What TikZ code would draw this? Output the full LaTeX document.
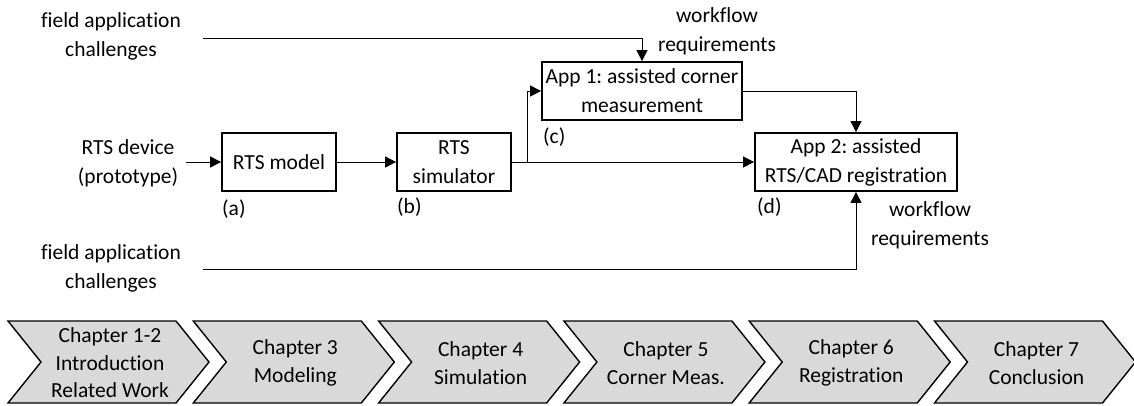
\documentclass[tikz,border=0pt]{standalone}
\usepackage{fontspec}
\setmainfont{Carlito}[Ligatures={NoCommon}]
\frenchspacing
\usetikzlibrary{arrows.meta}
\definecolor{chevfill}{HTML}{D9D9D9}
\tikzset{
  txt/.style={font=\fontsize{21.5}{29}\selectfont\frenchspacing, align=center, inner sep=0pt},
  chtxt/.style={font=\fontsize{21.5}{27.5}\selectfont\frenchspacing, align=center, inner sep=0pt},
  lbl/.style={font=\fontsize{21.5}{24}\selectfont, inner sep=0pt, anchor=west},
  box/.style={draw, line width=1.8pt, txt, minimum height=58pt},
  conn/.style={line width=1pt},
  arr/.style={line width=1pt, -{Triangle[length=11pt,width=11pt]}},
  chev/.style={draw, line width=1.4pt, fill=chevfill, line join=miter}
}
\begin{document}
\begin{tikzpicture}[x=1pt,y=-1pt]
\useasboundingbox (0,0) rectangle (1134,405);

% boxes
\node[box, minimum width=114pt] (model) at (279,162) {RTS model};
\node[box, minimum width=114pt] (sim) at (454,162) {RTS\\simulator};
\node[box, minimum width=200pt] (app1) at (642,91) {App 1: assisted corner\\measurement};
\node[box, minimum width=202pt] (app2) at (856,162) {App 2: assisted\\RTS/CAD registration};

% labels
\node[lbl] (la) at (222,209) {(a)};
\node[lbl] (lb) at (397,207) {(b)};
\node[lbl] (lc) at (543,137) {(c)};
\node[lbl] (ld) at (757,207) {(d)};

% texts
\node[txt] (fac1) at (111,36) {field application\\challenges};
\node[txt] (fac2) at (111,268) {field application\\challenges};
\node[txt] (dev) at (128,163) {RTS device\\(prototype)};
\node[txt] (wr1) at (717,31) {workflow\\requirements};
\node[txt] (wr2) at (930,225) {workflow\\requirements};

% connectors
\coordinate (t1) at (203,38);
\coordinate (b1) at (203,269);
\coordinate (d1) at (186,162);
\coordinate (br) at (527,162);

\draw[arr] (d1) -- (model.west);
\draw[arr] (model.east) -- (sim.west);
\draw[conn] (sim.east) -- (br);
\draw[arr] (br) -- (app2.west);
\draw[arr] (br) |- (app1.west);
\draw[arr] (app1.east) -| (app2.north);
\draw[arr] (t1) -| (app1.north);
\draw[arr] (b1) -| (app2.south);

% chevrons
\foreach \i/\t in {0/{Chapter 1-2\\Introduction\\Related Work},1/{Chapter 3\\Modeling},2/{Chapter 4\\Simulation},3/{Chapter 5\\Corner Meas.},4/{Chapter 6\\Registration},5/{Chapter 7\\Conclusion}}{
  \pgfmathsetmacro{\L}{8+185.3*\i}
  \draw[chev] (\L,321) -- ++(168,0) -- ++(33,41) -- ++(-33,41) -- ++(-168,0) -- ++(33,-41) -- cycle;
  \node[chtxt] (ch\i) at (\L+102,363) {\t};
}
\end{tikzpicture}
\end{document}
